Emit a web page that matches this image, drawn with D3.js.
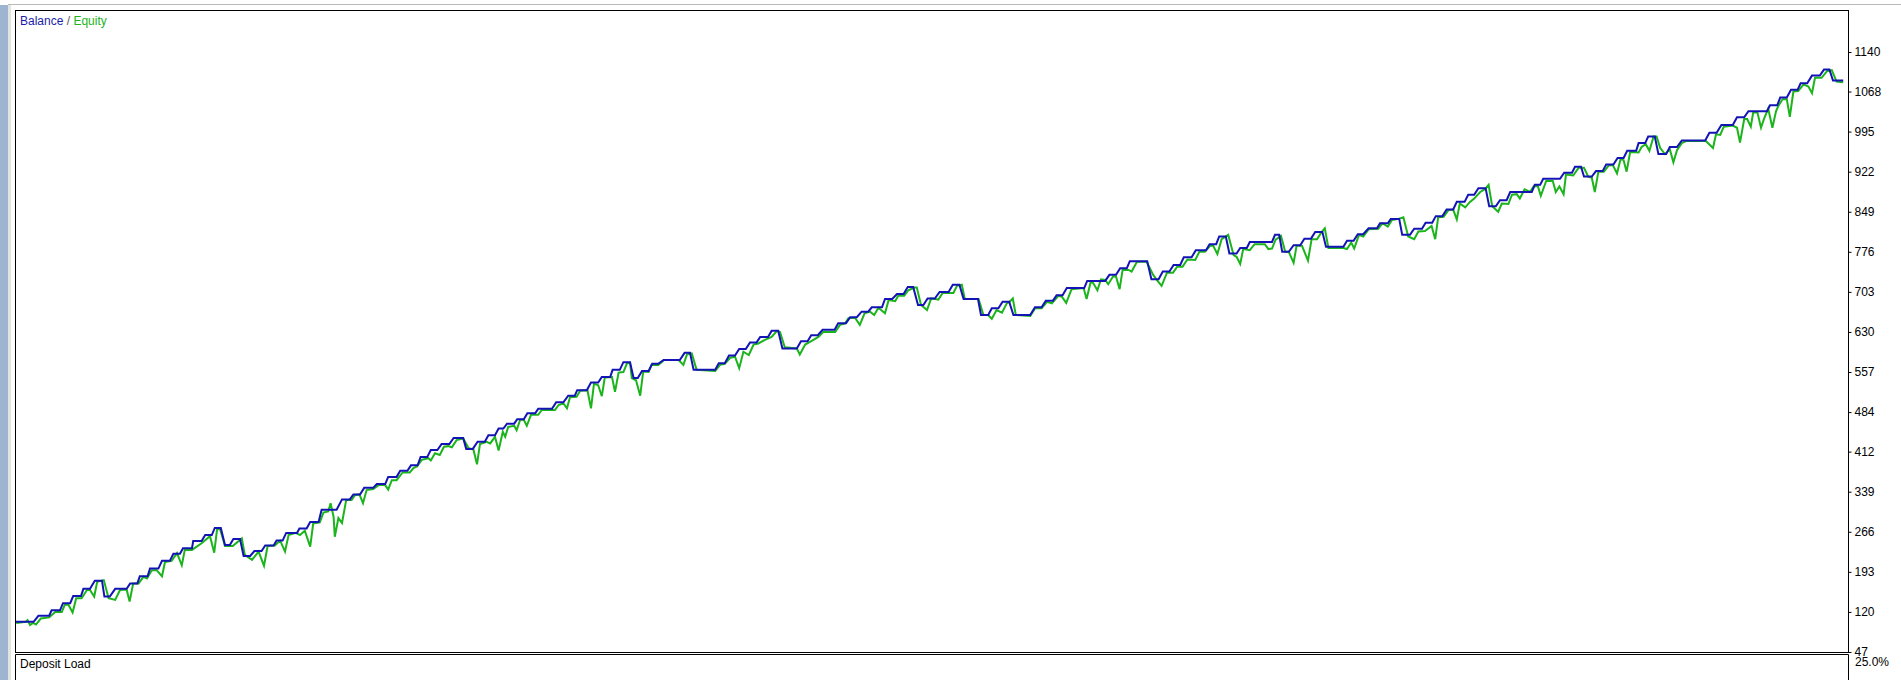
<!DOCTYPE html>
<html>
<head>
<meta charset="utf-8">
<script src="https://cdn.jsdelivr.net/npm/d3@7"></script>
<style>
  html, body { margin: 0; padding: 0; background: #ffffff; }
  svg { display: block; }
  text { font-family: "Liberation Sans", Arial, sans-serif; font-size: 12px; }
</style>
</head>
<body>
<svg id="chart" width="1901" height="680"></svg>
<script>
// ---- data (trade #, value) ----
const balance = [[0,102],[3.1,102],[3.9,113],[5.7,113],[6.1,123],[7.5,123],[8.0,136],[9.2,136],[9.7,149],[11.0,149],[11.4,162],[12.5,162],[13.3,177],[14.5,177],[14.9,148],[15.8,148],[16.7,162],[18.6,162],[19.2,172],[20.4,172],[20.8,185],[22.1,185],[22.5,199],[23.9,199],[24.5,213],[25.8,213],[26.4,226],[27.5,226],[28.0,236],[29.5,236],[29.7,249],[31.1,249],[31.7,260],[32.8,260],[33.3,273],[34.3,273],[35.0,242],[35.8,242],[36.4,253],[37.5,253],[38.1,222],[39.2,222],[39.9,231],[41.1,231],[41.7,241],[43.1,241],[43.6,250],[44.6,250],[45.2,264],[47.0,264],[47.4,272],[48.6,272],[49.2,284],[50.6,284],[51.1,306],[53.6,306],[54.5,325],[55.8,325],[56.4,334],[57.5,334],[58.2,346],[59.7,346],[60.3,353],[61.7,353],[62.2,366],[63.6,366],[64.2,377],[65.4,377],[66.0,387],[67.1,387],[67.6,402],[68.7,402],[69.3,415],[70.4,415],[71.1,426],[72.4,426],[73.1,437],[74.7,437],[75.2,417],[76.3,417],[77.1,430],[78.3,430],[78.9,442],[80.0,442],[80.6,454],[81.4,454],[82.0,463],[83.2,463],[83.7,471],[84.8,471],[85.4,482],[86.7,482],[87.2,490],[89.5,490],[90.2,502],[91.4,502],[92.2,514],[93.3,514],[93.7,524],[95.3,524],[96.0,538],[97.2,538],[97.8,548],[99.2,548],[99.6,561],[100.8,561],[101.4,575],[102.5,575],[103.1,546],[103.8,546],[104.5,559],[105.6,559],[106.2,572],[107.2,572],[108.1,579],[110.8,579],[111.6,592],[112.5,592],[113.1,561],[116.7,561],[117.3,573],[118.3,573],[119.0,587],[120.0,587],[120.7,599],[121.8,599],[122.5,611],[123.6,611],[124.2,621],[125.5,621],[126.1,632],[127.2,632],[127.9,600],[130.3,600],[131.0,613],[132.1,613],[132.7,624],[133.8,624],[134.6,634],[136.6,634],[137.2,646],[138.5,646],[139.2,657],[140.3,657],[141.1,667],[142.2,667],[142.8,675],[144.5,675],[145.0,690],[146.2,690],[147.0,699],[148.1,699],[148.8,712],[149.7,712],[150.5,679],[151.4,679],[152.1,691],[153.3,691],[154.1,703],[155.6,703],[156.3,716],[157.4,716],[158.1,690],[160.5,690],[161.0,661],[162.2,661],[162.8,673],[163.9,673],[164.6,685],[165.7,685],[166.4,661],[169.2,661],[170.0,675],[171.1,675],[171.8,687],[173.0,687],[173.6,697],[174.6,697],[175.3,710],[178.2,710],[178.7,723],[181.7,723],[182.4,734],[183.5,734],[184.2,746],[185.3,746],[185.8,759],[188.7,759],[189.4,726],[190.6,726],[191.3,740],[192.4,740],[193.1,752],[194.2,752],[194.8,766],[196.1,766],[196.8,779],[198.5,779],[199.1,790],[200.2,790],[200.7,804],[201.8,804],[202.4,773],[203.6,773],[204.2,783],[205.3,783],[205.8,794],[209.5,794],[210.0,807],[210.7,807],[211.2,776],[212.3,776],[213.1,788],[214.2,788],[214.9,800],[216.0,800],[216.7,812],[217.9,812],[218.5,785],[221.4,785],[222.0,796],[223.1,796],[223.8,808],[224.7,808],[225.6,819],[227.0,819],[227.5,828],[228.8,828],[229.3,836],[230.7,836],[231.2,807],[232.5,807],[233.2,818],[234.5,818],[235.1,829],[236.2,829],[236.8,841],[237.9,841],[238.6,853],[239.7,853],[240.3,867],[241.6,867],[242.2,880],[243.2,880],[243.9,892],[245.1,892],[245.7,859],[246.8,859],[247.5,870],[248.6,870],[249.2,885],[252.8,885],[253.3,898],[254.2,898],[254.7,909],[257.5,909],[258.2,920],[259.5,920],[260.0,931],[261.0,931],[261.5,913],[262.8,913],[263.5,923],[264.6,923],[265.2,935],[266.4,935],[267.1,947],[268.1,947],[268.7,960],[270.2,960],[270.6,974],[271.7,974],[272.2,986],[273.3,986],[273.9,954],[275.2,954],[275.8,967],[277.0,967],[277.8,979],[281.7,979],[282.4,993],[283.6,993],[284.4,1007],[286.3,1007],[287.0,1021],[288.2,1021],[288.9,1032],[292.0,1032],[292.5,1043],[293.7,1043],[294.2,1057],[295.3,1057],[296.0,1071],[297.1,1071],[297.6,1083],[298.7,1083],[299.5,1097],[300.8,1097],[301.5,1108],[302.4,1108],[303.0,1088],[304.7,1088]];

const equity = [[0.2,100],[1.8,102],[2.1,105],[2.5,96],[3.0,100],[3.5,97],[4.3,108],[5.7,110],[6.7,120],[7.8,120],[8.3,133],[8.9,133],[9.6,119],[10.2,145],[11.1,145],[12.0,160],[12.5,160],[13.2,148],[13.7,175],[14.8,178],[15.6,145],[16.7,142],[17.5,160],[18.6,161],[19.1,139],[19.7,172],[20.6,172],[21.4,184],[22.0,181],[22.8,196],[23.6,196],[24.5,185],[25.0,211],[26.1,213],[27.0,227],[27.8,205],[28.3,233],[29.5,233],[31.1,245],[32.5,258],[33.2,228],[33.7,272],[34.2,270],[35.0,240],[36.3,240],[37.8,254],[38.3,224],[39.5,215],[40.6,230],[41.5,204],[42.1,240],[43.3,241],[44.2,250],[45.0,230],[45.6,260],[46.8,264],[47.5,260],[48.3,268],[49.2,239],[49.7,281],[50.8,283],[51.4,301],[52.2,303],[52.6,318],[53.1,293],[53.3,257],[53.9,291],[54.5,282],[55.2,324],[56.1,324],[56.7,333],[57.4,334],[58.0,318],[58.6,342],[59.7,344],[60.6,351],[61.7,351],[62.2,343],[62.8,360],[63.6,360],[64.6,374],[65.8,374],[66.4,382],[67.0,385],[67.8,397],[68.9,400],[69.3,396],[70.0,409],[70.8,406],[71.5,421],[72.2,422],[72.8,420],[73.6,433],[74.7,436],[75.6,418],[76.4,416],[77.0,389],[77.5,426],[78.6,430],[79.2,427],[80.0,439],[80.6,414],[81.3,448],[81.7,439],[82.2,457],[83.2,459],[83.6,451],[84.2,470],[84.8,470],[85.3,459],[86.0,479],[87.2,479],[87.8,488],[90.0,488],[90.6,497],[91.4,500],[92.0,491],[92.5,511],[93.6,512],[94.2,523],[95.4,524],[96.0,491],[96.5,536],[97.2,533],[97.8,513],[98.3,547],[99.5,548],[100.0,521],[100.6,556],[101.4,557],[102.0,573],[102.5,574],[102.8,546],[103.5,542],[104.2,514],[104.7,558],[105.6,557],[106.1,570],[107.2,570],[108.2,579],[110.6,579],[111.4,570],[112.0,589],[112.8,591],[113.6,561],[116.7,559],[117.5,570],[118.3,572],[119.2,583],[120.0,585],[120.7,564],[121.4,594],[122.3,588],[123.1,607],[123.9,609],[124.9,615],[126.1,621],[127.0,632],[127.5,630],[128.3,602],[130.3,600],[130.8,589],[131.7,607],[132.5,612],[133.9,621],[134.7,630],[136.7,630],[137.5,643],[138.3,645],[138.9,655],[140.0,656],[140.8,643],[141.6,664],[142.5,667],[143.2,661],[143.9,674],[145.0,664],[145.6,688],[146.7,686],[147.2,696],[148.2,696],[148.9,706],[149.9,711],[150.3,711],[151.0,679],[152.0,670],[152.7,691],[153.3,690],[153.9,689],[154.6,701],[156.4,701],[157.0,714],[157.8,716],[158.3,690],[160.6,690],[161.4,661],[162.2,661],[162.8,654],[163.6,670],[164.5,665],[165.3,682],[165.8,685],[166.3,691],[166.8,661],[169.2,659],[170.0,673],[171.1,673],[172.0,685],[172.8,682],[173.9,696],[174.5,694],[175.2,683],[176.1,708],[178.1,710],[178.6,690],[179.3,722],[179.7,719],[180.4,706],[181.0,726],[181.7,725],[182.2,717],[183.0,731],[183.5,731],[184.1,708],[184.6,743],[185.6,743],[186.1,740],[187.0,758],[188.6,758],[189.7,734],[190.3,725],[191.1,714],[192.0,738],[193.0,738],[193.7,749],[194.6,749],[195.4,762],[196.7,761],[197.4,776],[198.3,776],[199.2,787],[199.7,787],[200.4,772],[201.1,799],[202.2,807],[203.1,770],[203.6,767],[204.2,754],[204.7,781],[205.8,779],[206.6,790],[208.3,790],[208.9,781],[209.5,782],[210.1,798],[211.0,805],[211.7,776],[212.3,776],[213.1,756],[213.6,787],[214.5,787],[215.5,760],[216.1,799],[217.0,799],[217.7,811],[218.3,819],[218.9,783],[221.4,783],[222.0,781],[222.7,793],[223.2,782],[224.0,807],[224.7,804],[225.6,817],[227.2,818],[227.9,828],[228.8,822],[229.5,834],[230.6,836],[231.4,839],[232.2,804],[233.2,799],[233.9,813],[235.0,814],[236.1,823],[236.7,799],[237.2,839],[238.1,840],[238.9,852],[239.7,853],[240.3,835],[240.8,864],[241.7,857],[242.5,867],[243.2,873],[244.2,885],[245.0,890],[245.6,898],[246.2,859],[247.2,849],[247.8,864],[248.9,863],[249.5,880],[250.3,881],[250.8,873],[251.6,890],[252.5,885],[253.1,895],[253.8,896],[254.3,878],[255.2,905],[256.3,905],[256.8,885],[257.4,895],[258.1,881],[258.5,917],[259.7,915],[260.6,929],[261.5,929],[262.2,913],[262.8,911],[263.3,885],[263.9,922],[264.8,922],[265.6,933],[266.3,934],[267.0,919],[267.6,945],[268.1,943],[268.6,922],[269.2,958],[270.6,957],[271.1,967],[271.8,972],[272.4,960],[273.1,986],[273.6,986],[274.2,965],[275.0,954],[275.8,963],[276.4,939],[277.0,961],[277.8,974],[278.6,978],[281.8,978],[283.0,965],[283.5,990],[284.2,989],[284.8,1004],[286.3,1006],[287.0,1002],[287.5,975],[288.2,1018],[288.7,1018],[289.3,1004],[289.7,1030],[290.4,1030],[291.0,1002],[291.5,1018],[292.2,1037],[292.9,1002],[293.5,1032],[293.9,1042],[294.6,1054],[295.3,1054],[295.8,1022],[296.4,1068],[297.2,1069],[298.1,1081],[298.9,1077],[299.5,1065],[300.0,1093],[301.1,1093],[302.0,1105],[302.8,1107],[303.6,1086],[304.7,1085]];

const yTicks = [47,120,193,266,339,412,484,557,630,703,776,849,922,995,1068,1140];
const depositLoadLabel = "25.0%";
const tradeRange = [0, 305];
const valueRange = [47, 1216.5];

// ---- layout ----
const svg = d3.select("#chart");
const plot = {left: 15, right: 1849, top: 10, bottom: 652};

// window chrome
svg.append("rect").attr("x",0).attr("y",5).attr("width",8).attr("height",675).attr("fill","#9db5d1");
svg.append("rect").attr("x",8).attr("y",5).attr("width",3).attr("height",675).attr("fill","#e3e3e3");
svg.append("line").attr("x1",8).attr("x2",1901).attr("y1",4.5).attr("y2",4.5).attr("stroke","#b9b9b9").attr("stroke-width",1);

const x = d3.scaleLinear().domain(tradeRange).range([plot.left, 1845]);
const y = d3.scaleLinear().domain(valueRange).range([plot.bottom, plot.top]);

svg.append("clipPath").attr("id","clip").append("rect")
  .attr("x",plot.left).attr("y",plot.top).attr("width",plot.right-plot.left).attr("height",plot.bottom-plot.top);

const line = d3.line().x(d => x(d[0])).y(d => y(d[1]));

const g = svg.append("g").attr("clip-path","url(#clip)");
g.append("path").datum(equity).attr("d", line).attr("fill","none")
  .attr("stroke","#1cb41c").attr("stroke-width",2).attr("stroke-linejoin","miter");
g.append("path").datum(balance).attr("d", line).attr("fill","none")
  .attr("stroke","#1414b4").attr("stroke-width",2).attr("stroke-linejoin","miter");

// frames
svg.append("rect").attr("x",plot.left+0.5).attr("y",plot.top+0.5)
  .attr("width",plot.right-plot.left-1).attr("height",plot.bottom-plot.top)
  .attr("fill","none").attr("stroke","#000").attr("stroke-width",1);
// lower panel (Deposit Load)
svg.append("path").attr("d",`M${plot.left+0.5},690 V654.5 H${plot.right-0.5} V690`)
  .attr("fill","none").attr("stroke","#000").attr("stroke-width",1);

// right axis
const axis = d3.axisRight(y).tickValues(yTicks).tickSize(3).tickPadding(3).tickFormat(d3.format("d"));
const ax = svg.append("g").attr("transform",`translate(${plot.right-0.5},0)`).call(axis);
ax.select(".domain").remove();
ax.selectAll("text").attr("font-family","Liberation Sans, Arial, sans-serif").attr("font-size",12).attr("fill","#000");
ax.selectAll("line").attr("stroke","#000");

// legend
const leg = svg.append("text").attr("x",20).attr("y",25);
leg.append("tspan").attr("fill","#1c1ca8").text("Balance");
leg.append("tspan").attr("fill","#555").text(" / ");
leg.append("tspan").attr("fill","#1cb41c").text("Equity");

// lower panel texts
svg.append("text").attr("x",20).attr("y",668).attr("fill","#000").text("Deposit Load");
svg.append("text").attr("x",1855).attr("y",666).attr("fill","#000").text(depositLoadLabel);
</script>
</body>
</html>
